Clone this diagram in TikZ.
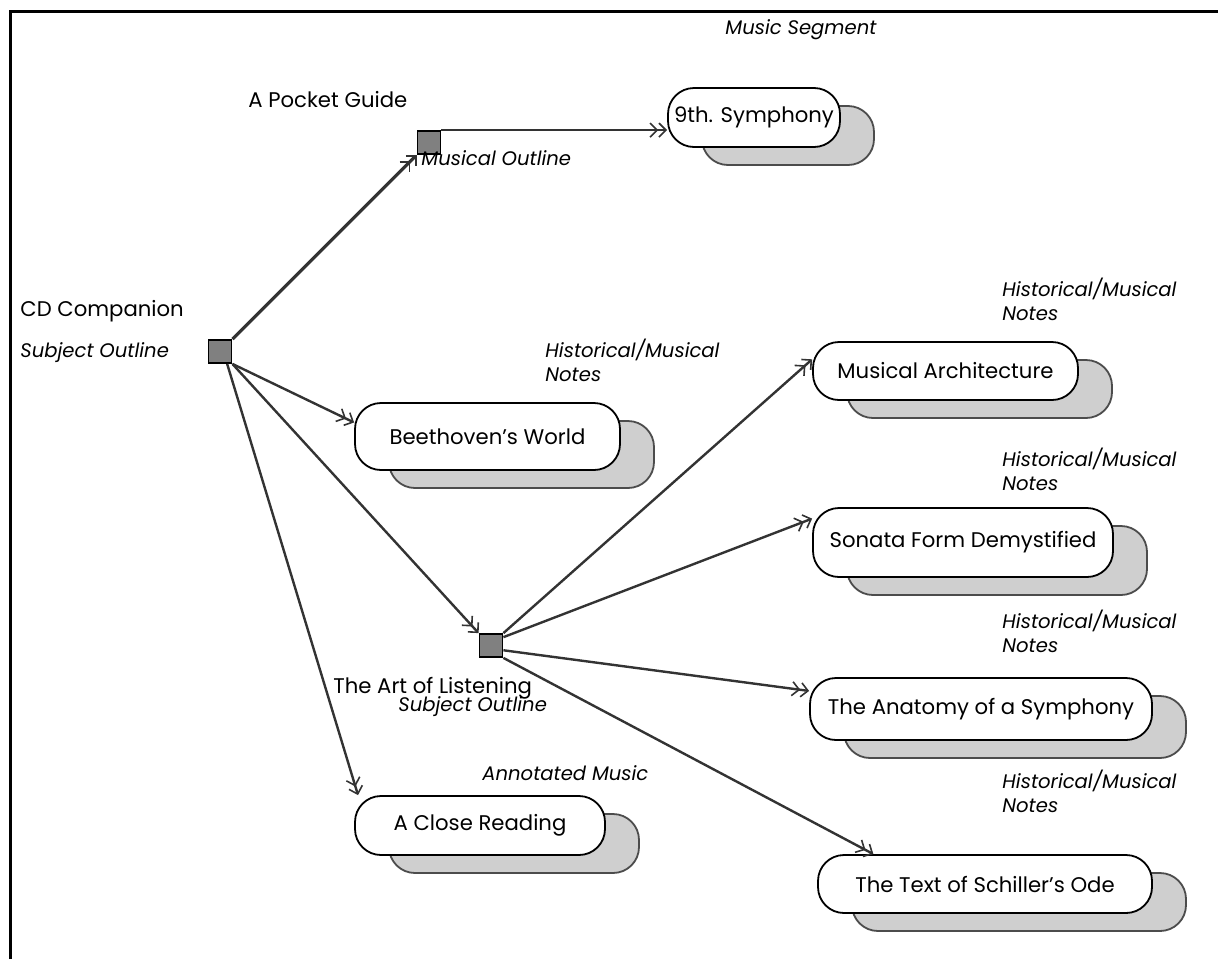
\documentclass[tikz,border=0pt]{standalone}
\usepackage{fontspec}
\setmainfont{Poppins}
\usetikzlibrary{arrows.meta,shadows}
\begin{document}
\begin{tikzpicture}[x=0.5pt,y=-0.5pt,
  every node/.style={font=\fontsize{10.6pt}{12pt}\selectfont},
  lbl/.style={anchor=west,inner sep=0pt},
  ilbl/.style={anchor=west,inner sep=0pt,font=\fontsize{9.8pt}{11.8pt}\selectfont\itshape},
  ilbl2/.style={anchor=north west,inner sep=0pt,align=left,font=\fontsize{9.8pt}{11.8pt}\selectfont\itshape},
  sq/.style={draw=black,line width=0.9pt,fill=black!50,minimum size=11.5pt,inner sep=0pt},
  tbox/.style={draw=black,line width=0.9pt,fill=white,rounded corners=13pt,inner sep=0pt,
    drop shadow={shadow xshift=17pt,shadow yshift=-9pt,fill=gray!38,draw=black!70,opacity=1}},
  conn/.style={draw=black!80,line width=1.2pt,
    -{Straight Barb[length=3.5pt,width=7pt,line width=0.8pt] Straight Barb[length=3.5pt,width=7pt,line width=0.8pt]}}
]
\useasboundingbox (0,0) rectangle (1218,959);
% frame
\draw[line width=1.5pt] (10,959) -- (10,11) -- (1218,11);

% squares
\node[sq] (S1) at (220,351.5) {};
\node[sq] (S2) at (429,142.5) {};
\node[sq] (S3) at (491,645.5) {};

% text boxes
\node[tbox,minimum width=86pt,minimum height=29.5pt] (ninth) at (754,117.5) {9th. Symphony};
\node[tbox,minimum width=132.5pt,minimum height=33.5pt] (beet) at (487.5,436.5) {Beethoven's World};
\node[tbox,minimum width=132.5pt,minimum height=29pt] (arch) at (945.5,371) {Musical Architecture};
\node[tbox,minimum width=150pt,minimum height=34.5pt] (sonata) at (963,542.5) {Sonata Form Demystified};
\node[tbox,minimum width=171pt,minimum height=31pt] (anat) at (981,709) {The Anatomy of a Symphony};
\node[tbox,minimum width=167pt,minimum height=29pt] (schiller) at (985,884) {The Text of Schiller's Ode};
\node[tbox,minimum width=125pt,minimum height=29.5pt] (close) at (480,825.5) {A Close Reading};

% labels
\node[lbl] (pocket) at (248,100) {A Pocket Guide};
\node[ilbl] (musout) at (421,158) {Musical Outline};
\node[ilbl] (musseg) at (725,30) {Music Segment};
\node[lbl] (cdc) at (20,311) {CD Companion};
\node[ilbl] (subj1) at (20,353) {Subject Outline};
\node[ilbl2] (hist1) at (545,339) {Historical/Musical\\Notes};
\node[ilbl2] (hist2) at (1002,278) {Historical/Musical\\Notes};
\node[ilbl2] (hist3) at (1002,448) {Historical/Musical\\Notes};
\node[ilbl2] (hist4) at (1002,610) {Historical/Musical\\Notes};
\node[ilbl2] (hist5) at (1002,770) {Historical/Musical\\Notes};
\node[lbl] (artl) at (333,688) {The Art of Listening};
\node[ilbl] (subj2) at (398,707) {Subject Outline};
\node[ilbl] (annot) at (482,773) {Annotated Music};

% connectors
\draw[conn,line width=1.6pt] (S1.north east) -- (S2.south west);
\draw[conn] (S2.north east) -- (S2.north east -| ninth.west);
\draw[conn] (S1.south east) -- (beet.174);
\draw[conn] (S1.south east) -- (S3.north west);
\draw[conn] (S1.-60) -- (close.166);
\draw[conn] (S3.north east) -- (arch.175);
\draw[conn] (S3.34) -- (sonata.171);
\draw[conn] (S3.-21) -- (anat.174);
\draw[conn] (S3.south east) -- (schiller.165);
\end{tikzpicture}
\end{document}
